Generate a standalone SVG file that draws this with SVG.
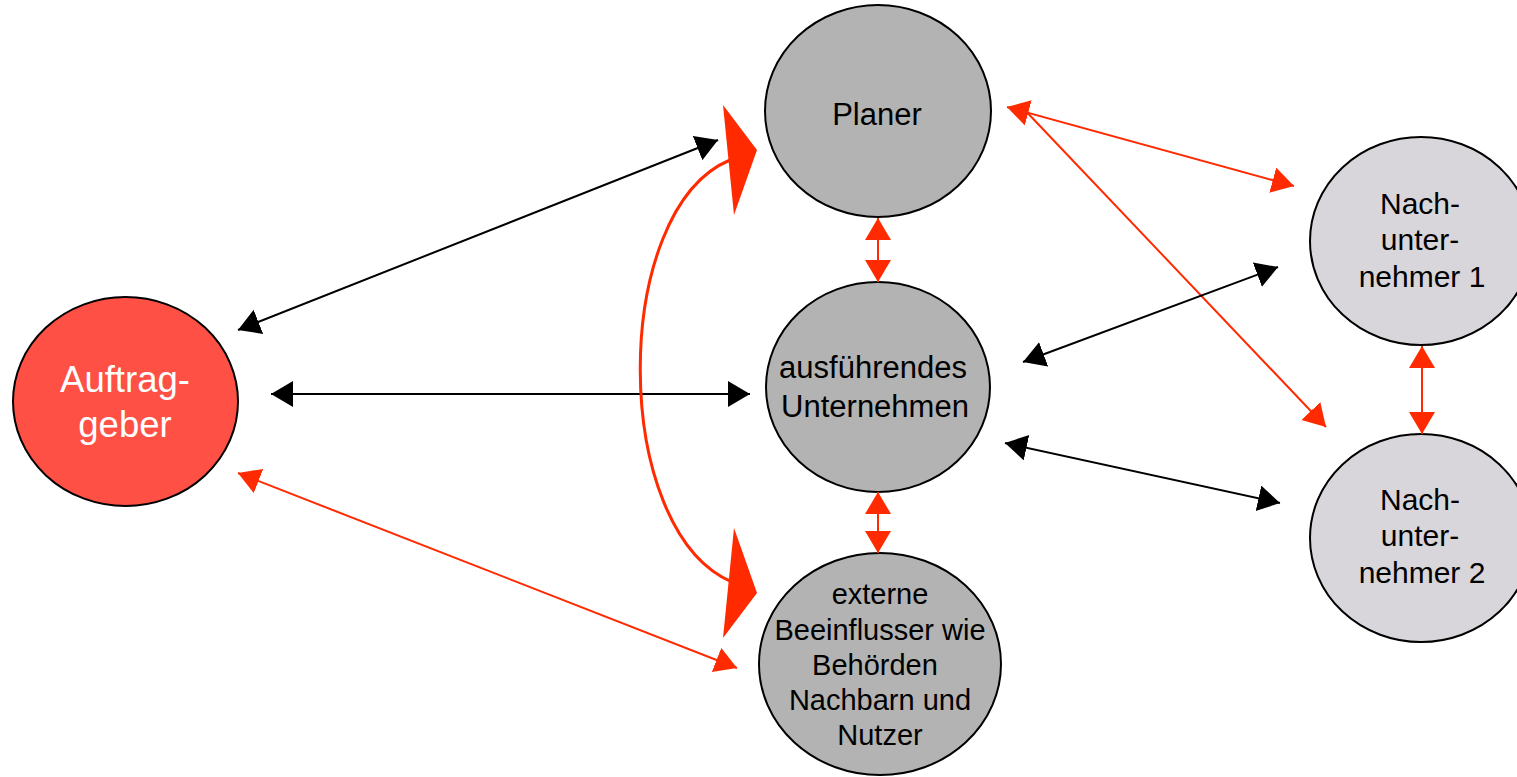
<svg xmlns="http://www.w3.org/2000/svg" width="1517" height="777" viewBox="0 0 1517 777">
  <style>
    .node { stroke: #000; stroke-width: 2; }
    .dark { fill: #b3b3b3; }
    .light { fill: #d8d6db; }
    .red { fill: #ff5045; }
    text { font-family: "Liberation Sans", Arial, sans-serif; text-anchor: middle; fill: #000; }
    .blk { stroke: #000; stroke-width: 2; fill: none; }
    .rd { stroke: #ff2a00; stroke-width: 2; fill: none; }
  </style>
  <defs>
    <marker id="ab" markerUnits="userSpaceOnUse" markerWidth="24" markerHeight="28" refX="22" refY="13" orient="auto-start-reverse">
      <path d="M0,0 L22,13 L0,26 z" fill="#000"/>
    </marker>
    <marker id="ar" markerUnits="userSpaceOnUse" markerWidth="24" markerHeight="28" refX="22" refY="13" orient="auto-start-reverse">
      <path d="M0,0 L22,13 L0,26 z" fill="#ff2a00"/>
    </marker>
  </defs>
  <rect width="1517" height="777" fill="#fff"/>

  <g id="auftraggeber">
    <ellipse class="node red" cx="125.5" cy="401.5" rx="112.5" ry="104.5"/>
    <text x="125" y="392" font-size="36.5" style="fill:#fff">Auftrag-</text>
    <text x="125" y="437" font-size="36.5" style="fill:#fff">geber</text>
  </g>
  <g id="planer">
    <ellipse class="node dark" cx="878" cy="111" rx="113" ry="106"/>
    <text x="877" y="125" font-size="31">Planer</text>
  </g>
  <g id="ausfuehrendes">
    <ellipse class="node dark" cx="878" cy="387" rx="112" ry="105"/>
    <text x="873" y="378" font-size="31">ausführendes</text>
    <text x="875" y="417" font-size="31">Unternehmen</text>
  </g>
  <g id="externe">
    <ellipse class="node dark" cx="880" cy="664" rx="121" ry="111"/>
    <text x="880" y="604" font-size="29">externe</text>
    <text x="880" y="640" font-size="29">Beeinflusser wie</text>
    <text x="875" y="675" font-size="29">Behörden</text>
    <text x="880" y="710" font-size="29">Nachbarn und</text>
    <text x="880" y="745" font-size="29">Nutzer</text>
  </g>
  <g id="nach1">
    <ellipse class="node light" cx="1421" cy="241" rx="111" ry="104"/>
    <text x="1420" y="214" font-size="30">Nach-</text>
    <text x="1420" y="250" font-size="30">unter-</text>
    <text x="1422" y="287" font-size="30">nehmer 1</text>
  </g>
  <g id="nach2">
    <ellipse class="node light" cx="1421" cy="538" rx="111" ry="104"/>
    <text x="1420" y="510" font-size="30">Nach-</text>
    <text x="1420" y="546" font-size="30">unter-</text>
    <text x="1422" y="583" font-size="30">nehmer 2</text>
  </g>

  <g id="connectors">
    <line class="blk" x1="238" y1="330" x2="718" y2="140" marker-start="url(#ab)" marker-end="url(#ab)"/>
    <line class="blk" x1="271" y1="394" x2="750" y2="394" marker-start="url(#ab)" marker-end="url(#ab)"/>
    <line class="rd" x1="238" y1="473" x2="737" y2="668" marker-start="url(#ar)" marker-end="url(#ar)"/>
    <line class="rd" x1="878" y1="218" x2="878" y2="282" marker-start="url(#ar)" marker-end="url(#ar)"/>
    <line class="rd" x1="878" y1="492" x2="878" y2="553" marker-start="url(#ar)" marker-end="url(#ar)"/>
    <line class="rd" x1="1007" y1="107" x2="1294" y2="186" marker-start="url(#ar)" marker-end="url(#ar)"/>
    <line class="rd" x1="1020" y1="105" x2="1326" y2="427" marker-end="url(#ar)"/>
    <line class="rd" x1="1422" y1="346" x2="1422" y2="434" marker-start="url(#ar)" marker-end="url(#ar)"/>
    <line class="blk" x1="1023" y1="362" x2="1278" y2="267" marker-start="url(#ab)" marker-end="url(#ab)"/>
    <line class="blk" x1="1005" y1="443" x2="1280" y2="503" marker-start="url(#ab)" marker-end="url(#ab)"/>
    <path d="M730,160 C610,210 610,530 732,582" stroke="#ff2a00" stroke-width="3" fill="none"/>
    <polygon points="723,105 757,150 734,215" fill="#ff2a00"/>
    <polygon points="734,528 757,593 723,638" fill="#ff2a00"/>
  </g>
</svg>
